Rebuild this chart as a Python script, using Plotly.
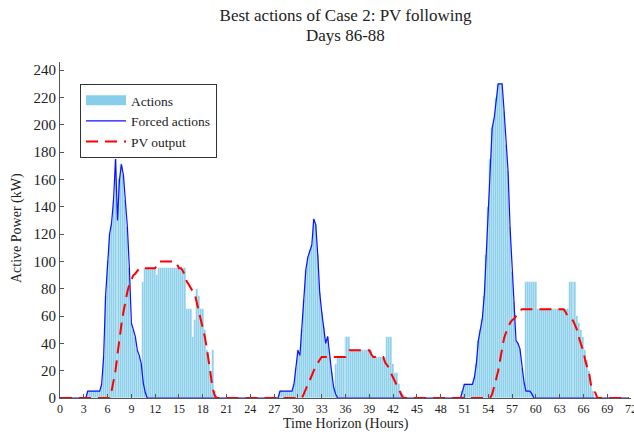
import numpy as np
import plotly.graph_objects as go

# ---- data (15-minute resolution, 96 steps per day) ----
step_hours = 0.25
hours = np.arange(288) * step_hours

forced_day86 = [0]*14 + [5]*7 + [10, 30, 75, 100, 120, 128, 145, 175, 130, 160, 171, 163, 145, 125, 95, 55, 50, 45, 35, 31, 25, 11, 4] + [0]*52
actions_day86 = [0]*14 + [5]*7 + [10, 30, 75, 100, 120, 128, 145, 175, 130, 160, 171, 163, 145, 125, 95, 55, 50, 45, 35, 31, 25] + [85] + [95]*6 + [90] + [95]*14 + [65]*3 + [45, 57, 80, 75, 65, 65, 50, 35, 25, 20, 35, 5] + [0]*17
pv_day86 = [0]*26 + [5, 12, 20, 32, 45, 54, 63, 72, 78, 83, 87, 90, 91, 93, 95] + [95]*8 + [98] + [100]*9 + [98, 95, 95, 93, 90, 85, 83, 80, 78, 76, 70, 64, 57, 52, 45, 37, 26, 15, 7, 2] + [0]*17

forced_day87 = [0]*15 + [5]*7 + [10, 22, 35, 31, 50, 72, 94, 103, 108, 112, 131, 127, 105, 77, 63, 52, 40, 45, 30, 19, 8, 3] + [0]*52
actions_day87 = [0]*15 + [5]*7 + [10, 22, 35, 31, 50, 72, 94, 103, 108, 112, 131, 127, 105, 77, 63, 52, 40, 45, 30, 19, 8] + [25] + [30]*4 + [45]*3 + [35]*11 + [30]*7 + [45]*3 + [25, 18, 18, 10, 5, 3] + [0]*18
pv_day87 = [0]*27 + [3, 7, 10, 13, 17, 20, 23, 26, 28] + [30]*13 + [33] + [35]*11 + [32] + [30]*6 + [26, 24, 22, 18, 15, 12, 9, 7, 3] + [0]*19

forced_day88 = [0]*11 + [5] + [10]*5 + [15, 25, 42, 50, 58, 75, 105, 140, 175, 198, 205, 220, 230, 230, 230, 210, 185, 166, 125, 92, 70, 42, 40, 36, 22, 12, 5, 5, 5, 3] + [0]*49
actions_day88 = [0]*11 + [5] + [10]*5 + [15, 25, 42, 50, 58, 75, 105, 140, 175, 198, 205, 220, 230, 230, 230, 210, 185, 166, 125, 92, 70, 42, 40, 36, 22, 12] + [85]*6 + [65]*16 + [85]*4 + [60, 55, 50, 45, 35, 28, 20, 10, 5] + [0]*18
pv_day88 = [0]*26 + [3, 8, 14, 20, 29, 37, 44, 48, 52, 55, 57, 58, 60, 62, 64] + [65]*22 + [63, 60, 59, 58, 56, 53, 49, 43, 38, 34, 27, 22, 17, 8, 5, 4] + [0]*17

actions = actions_day86 + actions_day87 + actions_day88
forced = forced_day86 + forced_day87 + forced_day88
pv = pv_day86 + pv_day87 + pv_day88

x_ticks = list(range(0, 73, 3))
y_ticks = list(range(0, 241, 20))

SERIF = "Liberation Serif"
TXT = "#222222"
SKY = "#87CEEB"

fig = go.Figure()
fig.add_trace(go.Bar(
    x=hours, y=actions, width=step_hours, name="Actions", showlegend=False,
    marker=dict(color=SKY, line=dict(color="rgba(255,255,255,0.45)", width=0.5)),
))
# legend swatch for the bars (wide rectangle, as in the reference)
fig.add_trace(go.Scatter(
    x=[None], y=[None], mode="lines", name="Actions",
    line=dict(color=SKY, width=13),
))
fig.add_trace(go.Scatter(
    x=hours, y=forced, mode="lines", name="Forced actions",
    line=dict(color="#1010ff", width=1.2),
))
fig.add_trace(go.Scatter(
    x=hours, y=pv, mode="lines", name="PV output",
    line=dict(color="#ff0000", width=2, dash="12px,7px"),
))

fig.update_layout(
    width=634, height=434,
    margin=dict(l=60, r=3, t=62, b=36),
    paper_bgcolor="white", plot_bgcolor="white",
    font=dict(family=SERIF, color=TXT),
    bargap=0,
    showlegend=True,
    title=dict(text="Best actions of Case 2: PV following", x=0.5, xref="paper", xanchor="center",
               y=1 - 15.5/434, yref="container", yanchor="middle",
               font=dict(family=SERIF, size=17, color=TXT)),
    legend=dict(x=0.035, y=0.9345, xanchor="left", yanchor="top",
                bgcolor="white", bordercolor="#333333", borderwidth=1,
                font=dict(family=SERIF, size=13.5, color=TXT),
                itemwidth=40, tracegroupgap=0),
    annotations=[
        dict(text="Days 86-88", xref="paper", yref="paper", x=0.5, y=(398-35)/336,
             xanchor="center", yanchor="middle", showarrow=False,
             font=dict(family=SERIF, size=17, color=TXT)),
        dict(text="Time Horizon (Hours)", xref="paper", yref="paper", x=0.5, y=(398-424)/336,
             xanchor="center", yanchor="middle", showarrow=False,
             font=dict(family=SERIF, size=14, color=TXT)),
        dict(text="Active Power (kW)", xref="paper", yref="paper", x=(17-60)/571, y=(398-228)/336,
             xanchor="center", yanchor="middle", showarrow=False, textangle=-90,
             font=dict(family=SERIF, size=14, color=TXT)),
    ],
)
fig.update_xaxes(range=[0, 72], tickmode="array", tickvals=x_ticks, ticktext=[str(v) for v in x_ticks],
                 showline=True, linecolor="#555555", linewidth=1, ticks="inside", ticklen=4,
                 tickcolor="#555555", showgrid=False, zeroline=False, automargin=False,
                 ticklabeloverflow="allow",
                 tickfont=dict(family=SERIF, size=12, color=TXT))
fig.update_yaxes(range=[0, 246], tickmode="array", tickvals=y_ticks, ticktext=[str(v) for v in y_ticks],
                 showline=True, linecolor="#555555", linewidth=1, ticks="inside", ticklen=4,
                 tickcolor="#555555", showgrid=False, zeroline=False, automargin=False,
                 tickfont=dict(family=SERIF, size=15, color=TXT))

fig.write_html("out.html", config={"displayModeBar": False},
               post_script="document.body.style.margin='0';document.body.style.padding='0';")
